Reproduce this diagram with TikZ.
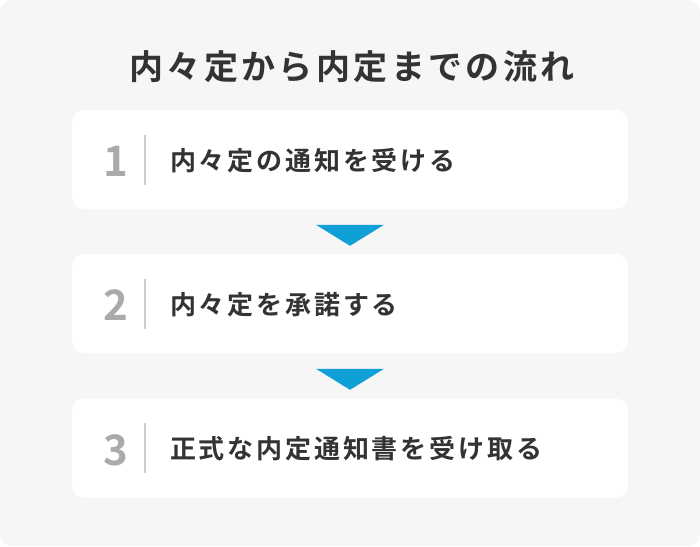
\documentclass[tikz,border=0pt]{standalone}
\usepackage{fontspec}
\newfontfamily\jpfont{Noto Sans CJK JP Bold}
\usetikzlibrary{positioning, calc}

\definecolor{bggray}{HTML}{F6F6F6}
\definecolor{textdark}{HTML}{333333}
\definecolor{numgray}{HTML}{AAAAAA}
\definecolor{rulegray}{HTML}{CCCCCC}
\definecolor{flowblue}{HTML}{0FA0D8}

\begin{document}
\begin{tikzpicture}[
    x=1pt, y=-1pt,
    font=\jpfont,
    every node/.style={inner sep=0pt, text=textdark},
    stepbox/.style={fill=white, rounded corners=12pt,
                    minimum width=556pt, minimum height=99pt},
    stepnum/.style={font=\jpfont\fontsize{42}{42}\selectfont, text=numgray},
    steptext/.style={font=\jpfont\fontsize{26}{26}\selectfont
                     \addfontfeature{LetterSpace=11}, anchor=west},
    flowarrow/.style={fill=flowblue}
]

% Background
\useasboundingbox (0,0) rectangle (700,546);
\fill[bggray, rounded corners=12pt] (0,0) rectangle (700,546);

% Title
\node[font=\jpfont\fontsize{34}{34}\selectfont\addfontfeature{LetterSpace=10}]
   (title) at (352,67) {内々定から内定までの流れ};

% 1) Steps.
\node[stepbox] (step1) at (350,159.5) {};
\node[stepbox] (step2) at (350,303.5) {};
\node[stepbox] (step3) at (350,448) {};

\foreach \i/\label in {1/内々定の通知を受ける,
                       2/内々定を承諾する,
                       3/正式な内定通知書を受け取る} {
    \node[stepnum] (num\i) at ($(step\i.west)+(44,2)$) {\i};
    \coordinate (ruletop\i) at ($(step\i.west)+(73,-25)$);
    \coordinate (rulebot\i) at ($(step\i.west)+(73,25)$);
    \draw[rulegray, line width=1.6pt] (ruletop\i) -- (rulebot\i);
    \node[steptext] (text\i) at ($(step\i.west)+(98,1)$) {\label};
}

% 2) Arrows between steps.
\foreach \a/\b in {1/2, 2/3} {
    \coordinate (gap\a) at ($(step\a.north)+(0,125.5)$);
    \fill[flowarrow] ($(gap\a)+(-34,-10.5)$) -- ($(gap\a)+(34,-10.5)$)
        -- ($(gap\a)+(0,10.5)$) -- cycle;
}

\end{tikzpicture}
\end{document}
